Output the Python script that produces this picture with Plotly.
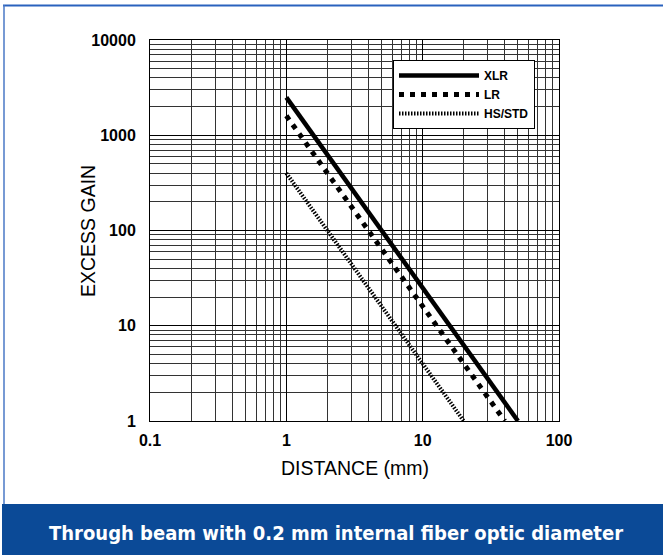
import plotly.graph_objects as go

# ---- data ----
series_names = ["XLR", "LR", "HS/STD"]
xlr_distance = [1, 50]
xlr_gain = [2500, 1]
lr_distance = [1, 40]
lr_gain = [1600, 1]
hs_distance = [1, 20]
hs_gain = [400, 1]

x_major = [0.1, 1, 10, 100]
x_major_text = ["0.1", "1", "10", "100"]
y_major = [1, 10, 100, 1000, 10000]
y_major_text = ["1", "10", "100", "1000", "10000"]
x_minor = [m * d for d in [0.1, 1, 10] for m in range(2, 10)]
y_minor = [m * d for d in [1, 10, 100, 1000] for m in range(2, 10)]

title_text = "Through beam with 0.2 mm internal fiber optic diameter"

W, H = 663, 555
L, R, T, B = 150, 104, 40, 134
PW, PH = W - L - R, H - T - B

def px(x):
    return (x - L) / PW

def py(y):
    return (H - B - y) / PH

COND = "DejaVu Sans Condensed, DejaVu Sans, sans-serif"
REG = "Liberation Sans, Arial, sans-serif"

fig = go.Figure()
fig.add_trace(go.Scatter(x=xlr_distance, y=xlr_gain, mode="lines", name=series_names[0],
                         line=dict(color="black", width=4.5)))
fig.add_trace(go.Scatter(x=lr_distance, y=lr_gain, mode="lines", name=series_names[1],
                         line=dict(color="black", width=5, dash="5px,6px")))
fig.add_trace(go.Scatter(x=hs_distance, y=hs_gain, mode="lines", name=series_names[2],
                         line=dict(color="black", width=4, dash="1.5px,1.5px")))

tickfont = dict(family=REG, size=16, color="black", weight="bold")
axis_common = dict(
    type="log", showline=True, mirror=True, linecolor="black", linewidth=1,
    showgrid=True, gridcolor="black", gridwidth=1, zeroline=False,
    ticks="", tickfont=tickfont,
)
fig.update_xaxes(**axis_common, range=[-1, 2], tickmode="array", tickvals=x_major,
                 ticktext=x_major_text, ticklabelstandoff=5,
                 minor=dict(tickvals=x_minor, showgrid=True, gridcolor="#333", gridwidth=1, ticks=""))
fig.update_yaxes(**axis_common, range=[0, 4], tickmode="array", tickvals=y_major,
                 ticktext=y_major_text, ticklabelstandoff=10,
                 minor=dict(tickvals=y_minor, showgrid=True, gridcolor="#333", gridwidth=1, ticks=""))

shapes = [
    # bottom banner
    dict(type="rect", xref="paper", yref="paper", x0=px(2), x1=px(W + 5), y0=py(504), y1=py(H + 5),
         fillcolor="#0B4A97", line=dict(width=0), layer="below"),
    # top blue rule
    dict(type="line", xref="paper", yref="paper", x0=px(3), x1=px(W + 5), y0=py(5.5), y1=py(5.5),
         line=dict(color="#2A62BE", width=2)),
    # left blue rule
    dict(type="line", xref="paper", yref="paper", x0=px(4), x1=px(4), y0=py(5), y1=py(504),
         line=dict(color="#4A78C6", width=1.5)),
]

annotations = [
    dict(text=title_text, xref="paper", yref="paper", x=px(336), y=py(533), showarrow=False,
         xanchor="center", yanchor="middle",
         font=dict(family=COND, size=20, color="white", weight="bold")),
    dict(text="DISTANCE (mm)", xref="paper", yref="paper", x=px(355), y=py(468), showarrow=False,
         xanchor="center", yanchor="middle", font=dict(family=REG, size=19.5, color="black")),
    dict(text="EXCESS GAIN", xref="paper", yref="paper", x=px(88), y=py(231), showarrow=False,
         textangle=-90, xanchor="center", yanchor="middle", font=dict(family=REG, size=19.5, color="black")),
]

fig.update_layout(
    width=W, height=H, margin=dict(l=L, r=R, t=T, b=B, autoexpand=False),
    paper_bgcolor="white", plot_bgcolor="white",
    shapes=shapes, annotations=annotations,
    legend=dict(x=px(393), y=py(60), xanchor="left", yanchor="top",
                bgcolor="white", bordercolor="black", borderwidth=1,
                font=dict(family=REG, size=12, color="black", weight="bold"),
                itemwidth=80, tracegroupgap=0),
    showlegend=True,
)

fig.write_html("out.html", config={"displayModeBar": False},
               post_script="document.body.style.margin='0';")
